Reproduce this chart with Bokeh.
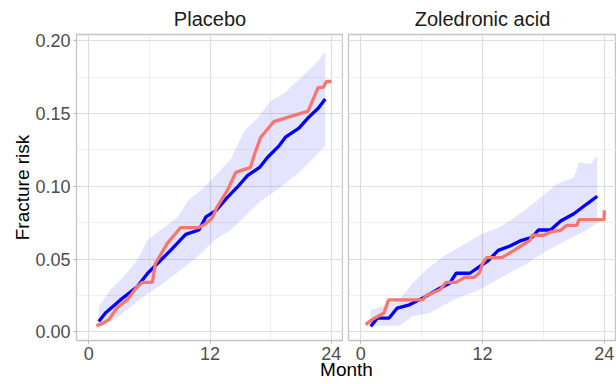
from bokeh.plotting import figure
from bokeh.layouts import column, row
from bokeh.models import FixedTicker, Range1d, Label, NumeralTickFormatter
from bokeh.embed import file_html
from bokeh.resources import INLINE

FONT = "Liberation Sans"

panels = ["Placebo", "Zoledronic acid"]
x_ticks = [0, 12, 24]
x_minor = [6, 18]
y_ticks = [0.0, 0.05, 0.10, 0.15, 0.20]
y_minor = [0.025, 0.075, 0.125, 0.175]

# Placebo: model prediction (blue) and observed Kaplan-Meier (salmon)
pl_model_month = [1.0, 1.66, 3.14, 4.8, 5.8, 6.8, 8.1, 9.6, 10.9, 11.6, 12.6, 13.6, 14.7,
                  15.7, 16.9, 17.7, 18.85, 19.5, 20.8, 21.7, 22.7, 23.4]
pl_model_risk = [0.0072, 0.013, 0.022, 0.031, 0.040, 0.047, 0.056, 0.067, 0.070, 0.079, 0.0835,
                 0.0915, 0.0994, 0.1074, 0.113, 0.120, 0.128, 0.134, 0.140, 0.147, 0.1536, 0.160]
pl_km_month = [0.76, 1.3, 2.0, 2.8, 3.8, 4.8, 5.3, 6.3, 6.6, 7.8, 9.1, 10.9, 11.6, 12.2, 12.7,
               13.7, 14.55, 16.0, 16.4, 17.0, 18.3, 21.7, 22.7, 23.2, 23.5, 24.0]
pl_km_risk = [0.0043, 0.0055, 0.0084, 0.0164, 0.022, 0.031, 0.034, 0.034, 0.047, 0.061, 0.0717,
              0.0717, 0.0744, 0.078, 0.0857, 0.097, 0.1096, 0.113, 0.122, 0.1335, 0.1444, 0.1517,
              0.168, 0.168, 0.172, 0.172]
pl_hi_month = [1.0, 2.15, 3.5, 4.8, 5.8, 7.1, 8.8, 9.8, 11.4, 12.7, 14.05, 15.4, 16.7, 18.0,
               19.35, 21.3, 22.7, 23.4]
pl_hi_risk = [0.0175, 0.029, 0.038, 0.0494, 0.063, 0.070, 0.079, 0.090, 0.0994, 0.1085, 0.1188,
              0.138, 0.147, 0.1586, 0.164, 0.1768, 0.186, 0.193]
pl_lo_month = [1.0, 2.5, 3.8, 5.45, 7.4, 9.1, 10.75, 12.4, 14.05, 15.4, 17.0, 19.0, 21.0, 22.3, 23.4]
pl_lo_risk = [0.005, 0.0084, 0.0152, 0.0243, 0.0334, 0.0425, 0.0516, 0.063, 0.070, 0.079, 0.090,
              0.0994, 0.1108, 0.120, 0.128]

# Zoledronic acid
zo_model_month = [0.99, 1.65, 2.8, 3.6, 4.8, 6.1, 7.8, 8.76, 9.4, 10.75, 11.7, 12.56, 13.55,
                  14.7, 15.7, 16.9, 17.5, 18.7, 19.7, 21.0, 22.3, 23.3]
zo_model_risk = [0.0038, 0.0095, 0.0095, 0.0164, 0.0186, 0.0232, 0.030, 0.0334, 0.0403, 0.0403,
                 0.0448, 0.049, 0.056, 0.059, 0.0625, 0.065, 0.070, 0.070, 0.0762, 0.0812, 0.088,
                 0.0932]
zo_km_month = [0.5, 0.99, 2.3, 2.74, 6.1, 6.45, 7.8, 8.4, 9.4, 10.25, 11.2, 11.7, 12.0, 12.4,
               13.9, 15.0, 16.7, 16.9, 18.0, 18.7, 19.7, 20.3, 21.3, 21.5, 23.97, 24.0]
zo_km_risk = [0.005, 0.0079, 0.013, 0.022, 0.022, 0.025, 0.0289, 0.034, 0.034, 0.0375, 0.0375,
              0.0407, 0.047, 0.051, 0.051, 0.0555, 0.063, 0.0664, 0.0664, 0.0687, 0.0698, 0.0732,
              0.0732, 0.0771, 0.0771, 0.0835]
zo_hi_month = [0.99, 2.14, 3.8, 5.1, 6.45, 8.1, 9.75, 11.7, 13.7, 15.0, 17.0, 19.35, 21.0, 21.5,
               22.65, 23.3]
zo_hi_risk = [0.0152, 0.0175, 0.022, 0.0334, 0.0425, 0.0516, 0.0584, 0.0664, 0.072, 0.0778, 0.088,
              0.1017, 0.1061, 0.1165, 0.1154, 0.121]
zo_lo_month = [0.99, 3.8, 5.1, 6.8, 9.1, 11.7, 13.7, 16.4, 18.35, 20.3, 22.3, 23.3]
zo_lo_risk = [0.0043, 0.0043, 0.0108, 0.013, 0.022, 0.0289, 0.0369, 0.047, 0.056, 0.063, 0.070,
              0.0748]

data = [
    (pl_model_month, pl_model_risk, pl_km_month, pl_km_risk, pl_hi_month, pl_hi_risk, pl_lo_month, pl_lo_risk),
    (zo_model_month, zo_model_risk, zo_km_month, zo_km_risk, zo_hi_month, zo_hi_risk, zo_lo_month, zo_lo_risk),
]

y_range = Range1d(-0.0059, 0.2043)
figs = []
for i, (name, d) in enumerate(zip(panels, data)):
    mm, mr, km, kr, hm, hr, lm, lr = d
    left = i == 0
    p = figure(width=343 if left else 273, height=362,
               x_range=Range1d(-1.2, 25.2), y_range=y_range,
               output_backend="svg", toolbar_location=None,
               min_border_left=76 if left else 5, min_border_right=0,
               min_border_top=33, min_border_bottom=21,
               title=name)
    p.title.text_font = FONT
    p.title.text_font_size = "20px"
    p.title.text_font_style = "normal"
    p.title.text_color = "#1A1A1A"
    p.title.align = "center"
    p.title.offset = 0
    p.background_fill_color = "white"
    p.border_fill_color = "white"
    p.outline_line_color = "#C4C4C4"
    p.outline_line_width = 1.3

    p.xaxis.ticker = FixedTicker(ticks=x_ticks, minor_ticks=x_minor)
    p.yaxis.ticker = FixedTicker(ticks=y_ticks, minor_ticks=y_minor)
    p.xgrid.grid_line_color = "#DEDEDE"
    p.ygrid.grid_line_color = "#DEDEDE"
    p.xgrid.grid_line_width = 1.2
    p.ygrid.grid_line_width = 1.2
    p.xgrid.minor_grid_line_color = "#EBEBEB"
    p.ygrid.minor_grid_line_color = "#EBEBEB"
    p.xgrid.minor_grid_line_width = 0.8
    p.ygrid.minor_grid_line_width = 0.8

    for ax in [p.xaxis[0], p.yaxis[0]]:
        ax.axis_line_color = None
        ax.major_tick_line_color = "#B3B3B3"
        ax.major_tick_out = 3
        ax.major_tick_in = 0
        ax.minor_tick_line_color = None
        ax.major_label_text_font = FONT
        ax.major_label_text_font_size = "18px"
        ax.major_label_text_color = "#4D4D4D"
        ax.major_label_standoff = 2
    p.yaxis.formatter = NumeralTickFormatter(format="0.00")
    if left:
        p.yaxis.axis_label = "Fracture risk"
        p.yaxis.axis_label_text_font = FONT
        p.yaxis.axis_label_text_font_size = "19px"
        p.yaxis.axis_label_text_font_style = "normal"
        p.yaxis.axis_label_text_color = "black"
        p.yaxis.axis_label_standoff = -1
    else:
        p.yaxis.visible = False

    xs = list(hm) + list(reversed(lm))
    ys = list(hr) + list(reversed(lr))
    p.patch(xs, ys, fill_color="#2020FF", fill_alpha=0.12, line_color=None)
    p.line(mm, mr, line_color="#0000FF", line_width=3.3)
    p.line(km, kr, line_color="#F8766D", line_width=3.3)
    figs.append(p)

pm = figure(width=616, height=24, output_backend="svg", toolbar_location=None,
            title=None, min_border=0, x_range=Range1d(0, 616), y_range=Range1d(0, 24))
pm.margin = (-6, 0, 0, 0)
pm.axis.visible = False
pm.grid.visible = False
pm.outline_line_color = None
pm.background_fill_alpha = 0
pm.border_fill_alpha = 0
pm.add_layout(Label(x=346, y=11, text="Month",
                    text_font=FONT, text_font_size="19px", text_color="black",
                    text_align="center", text_baseline="middle"))

layout = column(row(*figs, spacing=0), pm, spacing=0)
open("out.html", "w").write(file_html(layout, INLINE))
